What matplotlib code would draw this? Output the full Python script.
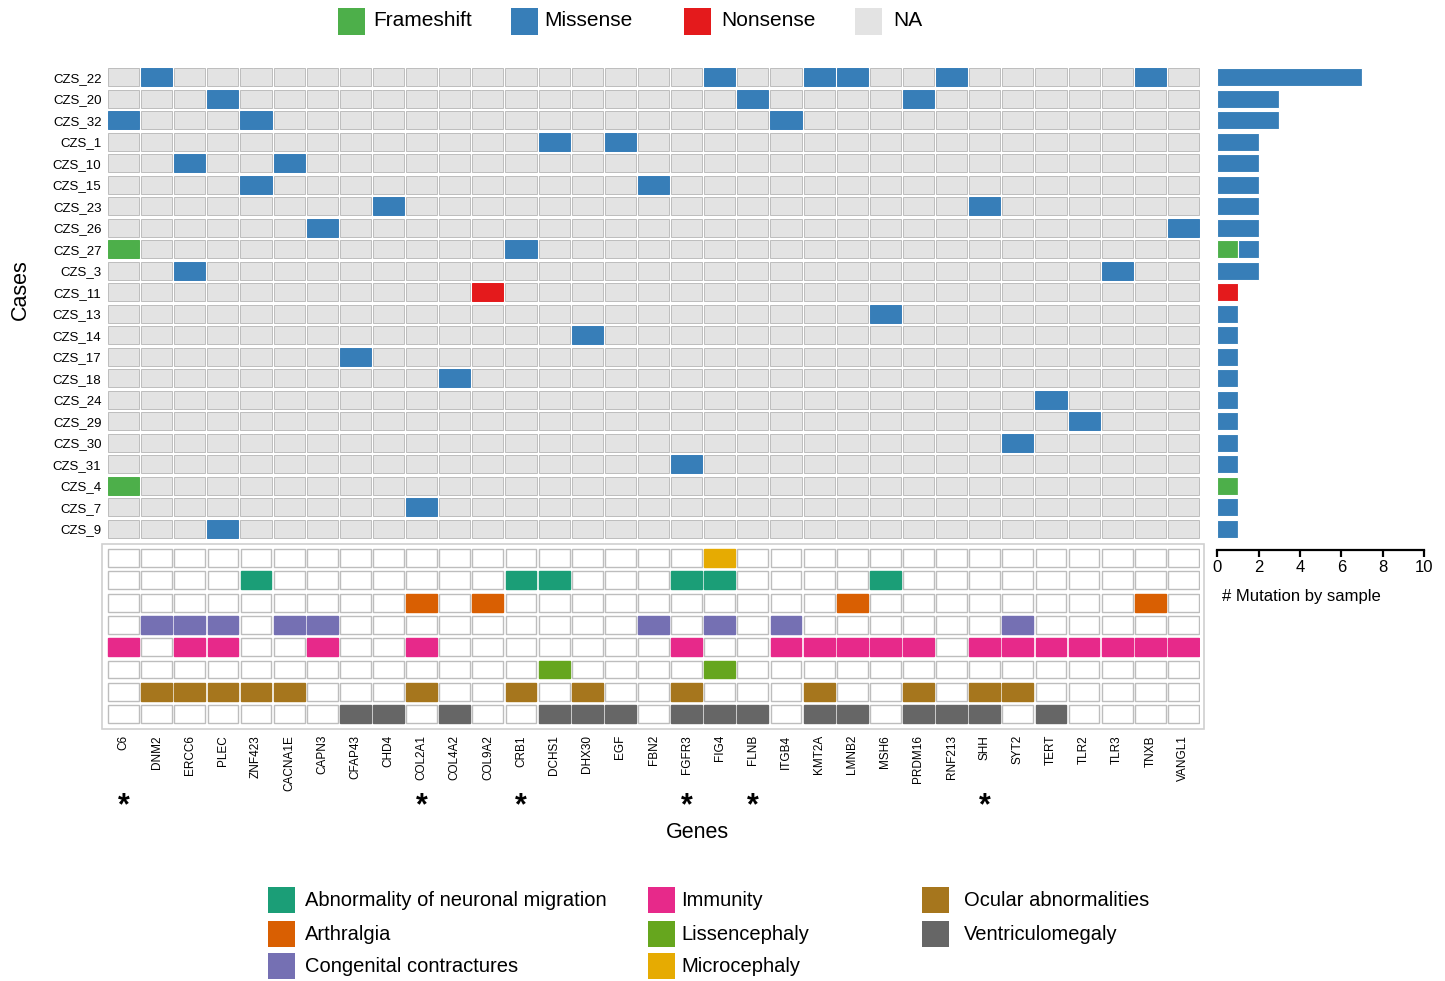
import matplotlib
matplotlib.use("Agg")
import matplotlib.pyplot as plt
from matplotlib.patches import Rectangle

plt.rcParams['font.family'] = ['Liberation Sans', 'DejaVu Sans']

# ---------------- data ----------------
samples = ["CZS_22", "CZS_20", "CZS_32", "CZS_1", "CZS_10", "CZS_15", "CZS_23",
           "CZS_26", "CZS_27", "CZS_3", "CZS_11", "CZS_13", "CZS_14", "CZS_17",
           "CZS_18", "CZS_24", "CZS_29", "CZS_30", "CZS_31", "CZS_4", "CZS_7", "CZS_9"]

genes = ["C6", "DNM2", "ERCC6", "PLEC", "ZNF423", "CACNA1E", "CAPN3", "CFAP43",
         "CHD4", "COL2A1", "COL4A2", "COL9A2", "CRB1", "DCHS1", "DHX30", "EGF",
         "FBN2", "FGFR3", "FIG4", "FLNB", "ITGB4", "KMT2A", "LMNB2", "MSH6",
         "PRDM16", "RNF213", "SHH", "SYT2", "TERT", "TLR2", "TLR3", "TNXB", "VANGL1"]

missense = {
    "CZS_22": ["DNM2", "FIG4", "KMT2A", "LMNB2", "RNF213", "TNXB"],
    "CZS_20": ["PLEC", "FLNB", "PRDM16"],
    "CZS_32": ["C6", "ZNF423", "ITGB4"],
    "CZS_1": ["DCHS1", "EGF"],
    "CZS_10": ["ERCC6", "CACNA1E"],
    "CZS_15": ["ZNF423", "FBN2"],
    "CZS_23": ["CHD4", "SHH"],
    "CZS_26": ["CAPN3", "VANGL1"],
    "CZS_27": ["CRB1"],
    "CZS_3": ["ERCC6", "TLR3"],
    "CZS_13": ["MSH6"],
    "CZS_14": ["DHX30"],
    "CZS_17": ["CFAP43"],
    "CZS_18": ["COL4A2"],
    "CZS_24": ["TERT"],
    "CZS_29": ["TLR2"],
    "CZS_30": ["SYT2"],
    "CZS_31": ["FGFR3"],
    "CZS_7": ["COL2A1"],
    "CZS_9": ["PLEC"],
}
frameshift = {"CZS_27": ["C6"], "CZS_4": ["C6"]}
nonsense = {"CZS_11": ["COL9A2"]}

# mutation counts per sample (same order as samples)
frameshift_count = [0, 0, 0, 0, 0, 0, 0, 0, 1, 0, 0, 0, 0, 0, 0, 0, 0, 0, 0, 1, 0, 0]
missense_count = [7, 3, 3, 2, 2, 2, 2, 2, 1, 2, 0, 1, 1, 1, 1, 1, 1, 1, 1, 0, 1, 1]
nonsense_count = [0, 0, 0, 0, 0, 0, 0, 0, 0, 0, 1, 0, 0, 0, 0, 0, 0, 0, 0, 0, 0, 0]

phenotype_rows = ["Microcephaly", "Abnormality of neuronal migration", "Arthralgia",
                  "Congenital contractures", "Immunity", "Lissencephaly",
                  "Ocular abnormalities", "Ventriculomegaly"]
phenotype_genes = {
    "Microcephaly": ["FIG4"],
    "Abnormality of neuronal migration": ["ZNF423", "CRB1", "DCHS1", "FGFR3", "FIG4", "MSH6"],
    "Arthralgia": ["COL2A1", "COL9A2", "LMNB2", "TNXB"],
    "Congenital contractures": ["DNM2", "ERCC6", "PLEC", "CACNA1E", "CAPN3", "FBN2",
                                "FIG4", "ITGB4", "SYT2"],
    "Immunity": ["C6", "ERCC6", "PLEC", "CAPN3", "COL2A1", "FGFR3", "ITGB4", "KMT2A",
                 "LMNB2", "MSH6", "PRDM16", "SHH", "SYT2", "TERT", "TLR2", "TLR3",
                 "TNXB", "VANGL1"],
    "Lissencephaly": ["DCHS1", "FIG4"],
    "Ocular abnormalities": ["DNM2", "ERCC6", "PLEC", "ZNF423", "CACNA1E", "COL2A1",
                             "CRB1", "DHX30", "FGFR3", "KMT2A", "PRDM16", "SHH", "SYT2"],
    "Ventriculomegaly": ["CFAP43", "CHD4", "COL4A2", "DCHS1", "DHX30", "EGF", "FGFR3",
                         "FIG4", "FLNB", "KMT2A", "LMNB2", "PRDM16", "RNF213", "SHH", "TERT"],
}
starred_genes = ["C6", "COL2A1", "CRB1", "FGFR3", "FLNB", "SHH"]

mutation_types = ["Frameshift", "Missense", "Nonsense", "NA"]
legend_phenotypes = ["Abnormality of neuronal migration", "Arthralgia",
                     "Congenital contractures", "Immunity", "Lissencephaly",
                     "Microcephaly", "Ocular abnormalities", "Ventriculomegaly"]

# ---------------- styling ----------------
mut_colors = {"Frameshift": "#4DAF4A", "Missense": "#377EB8",
              "Nonsense": "#E41A1C", "NA": "#E3E3E3"}
pheno_colors = {"Abnormality of neuronal migration": "#1B9E77",
                "Arthralgia": "#D95F02",
                "Congenital contractures": "#7570B3",
                "Immunity": "#E7298A",
                "Lissencephaly": "#66A61E",
                "Microcephaly": "#E6AB02",
                "Ocular abnormalities": "#A6761D",
                "Ventriculomegaly": "#666666"}

W, H = 1445, 981
fig = plt.figure(figsize=(W / 100, H / 100), dpi=100)


def px_axes(x0, y0, x1, y1):
    return fig.add_axes([x0 / W, 1 - y1 / H, (x1 - x0) / W, (y1 - y0) / H])


def fx(x):
    return x / W


def fy(y):
    return 1 - y / H


n_s, n_g = len(samples), len(genes)
GRID_X0, GRID_X1 = 107, 1200
col_w = (GRID_X1 - GRID_X0) / n_g

# ---------------- mutation grid ----------------
ax = px_axes(GRID_X0, 66.5, GRID_X1, 539.5)
ax.set_xlim(0, n_g)
ax.set_ylim(n_s, 0)
cw, ch = 0.94, 0.82
cell_type = {}
for kind, table in (("Missense", missense), ("Frameshift", frameshift), ("Nonsense", nonsense)):
    for s, gl in table.items():
        for g in gl:
            cell_type[(s, g)] = kind
for i, s in enumerate(samples):
    for j, g in enumerate(genes):
        kind = cell_type.get((s, g), "NA")
        ax.add_patch(Rectangle((j + (1 - cw) / 2, i + (1 - ch) / 2), cw, ch,
                               facecolor=mut_colors[kind],
                               edgecolor="#BDBDBD" if kind == "NA" else mut_colors[kind],
                               linewidth=0.7))
ax.set_yticks([i + 0.5 for i in range(n_s)])
ax.set_yticklabels(samples, fontsize=9.5)
ax.tick_params(axis="y", length=0, pad=4)
ax.set_xticks([])
for sp in ax.spines.values():
    sp.set_visible(False)

# ---------------- counts by sample ----------------
axb = px_axes(1217.3, 66.5, 1424, 539.5)
axb.set_xlim(0, 10)
axb.set_ylim(n_s, 0)
ypos = [i + 0.5 for i in range(n_s)]
left = [0] * n_s
for kind, counts in (("Frameshift", frameshift_count), ("Missense", missense_count),
                     ("Nonsense", nonsense_count)):
    axb.barh(ypos, counts, left=left, height=0.82, color=mut_colors[kind],
             edgecolor="white", linewidth=0.8)
    left = [a + b for a, b in zip(left, counts)]
axb.set_yticks([])
axb.set_xticks([0, 2, 4, 6, 8, 10])
axb.tick_params(axis="x", direction="out", length=5, width=1.6, labelsize=12, pad=2)
for k in ("top", "right", "left"):
    axb.spines[k].set_visible(False)
axb.spines["bottom"].set_position(("outward", 7.5))
axb.spines["bottom"].set_linewidth(1.6)
fig.text(fx(1222), fy(596), "# Mutation by sample", fontsize=12, ha="left", va="center")

# ---------------- phenotype panel ----------------
fig.patches.append(Rectangle((fx(102), fy(729)), (1204 - 102) / W, (729 - 543.5) / H,
                             transform=fig.transFigure, facecolor="white",
                             edgecolor="#D0D0D0", linewidth=1.2, zorder=-1))
axp = px_axes(GRID_X0, 546.8, GRID_X1, 725.3)
axp.set_xlim(0, n_g)
axp.set_ylim(len(phenotype_rows), 0)
pw, ph = 0.93, 0.8
for i, p in enumerate(phenotype_rows):
    for j, g in enumerate(genes):
        on = g in phenotype_genes[p]
        axp.add_patch(Rectangle((j + (1 - pw) / 2, i + (1 - ph) / 2), pw, ph,
                                facecolor=pheno_colors[p] if on else "white",
                                edgecolor=pheno_colors[p] if on else "#BDBDBD",
                                linewidth=1.0))
axp.set_xticks([j + 0.5 for j in range(n_g)])
axp.set_xticklabels(genes, rotation=90, fontsize=8.5)
axp.tick_params(axis="x", length=0, pad=7)
axp.set_yticks([])
axp.patch.set_alpha(0)
for sp in axp.spines.values():
    sp.set_visible(False)

# asterisks below the flagged genes
for g in starred_genes:
    j = genes.index(g)
    fig.text(fx(GRID_X0 + (j + 0.5) * col_w), fy(806), "*", ha="center",
             va="center", fontsize=22, fontweight="bold")

fig.text(fx(697), fy(832), "Genes", fontsize=15.5, ha="center", va="center")
fig.text(fx(20), fy(290), "Cases", fontsize=15.5, ha="center", va="center", rotation=90)

# ---------------- legends ----------------
sq = 27
top_x = [338, 511, 684, 855]
text_x = [373, 544, 721, 893]
for kind, x0, tx in zip(mutation_types, top_x, text_x):
    fig.patches.append(Rectangle((fx(x0), fy(35)), sq / W, sq / H, transform=fig.transFigure,
                                 facecolor=mut_colors[kind], edgecolor="none"))
    fig.text(fx(tx), fy(21), kind, fontsize=15, ha="left", va="center")

col_sq_x = [268, 648, 922]
col_text_x = [305, 681, 964]
row_y = [900, 934, 966]
for k, p in enumerate(legend_phenotypes):
    c, r = divmod(k, 3)
    fig.patches.append(Rectangle((fx(col_sq_x[c]), fy(row_y[r] + 13)), 27 / W, 26 / H,
                                 transform=fig.transFigure, facecolor=pheno_colors[p],
                                 edgecolor="none"))
    fig.text(fx(col_text_x[c]), fy(row_y[r]), p, fontsize=14.5, ha="left", va="center")

fig.savefig("out.png", dpi=100, facecolor="white")
